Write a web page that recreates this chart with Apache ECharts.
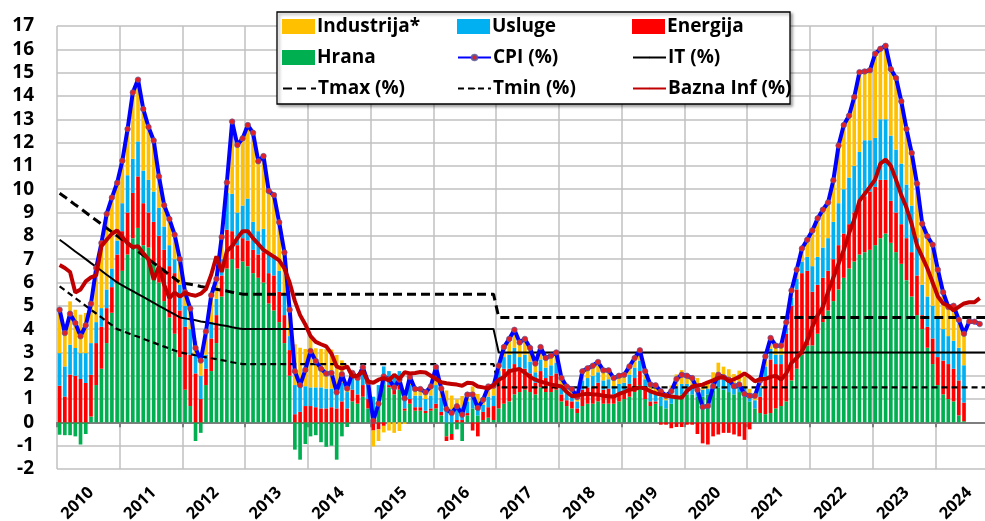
<!DOCTYPE html>
<html><head><meta charset="utf-8">
<script src="https://cdn.jsdelivr.net/npm/echarts@6/dist/echarts.min.js"></script>
<style>html,body{margin:0;padding:0;background:#fff}#c{width:985px;height:521px}</style>
</head><body><div id="c"></div>
<script>
const years = [2010,2011,2012,2013,2014,2015,2016,2017,2018,2019,2020,2021,2022,2023,2024];
const monthCodes = ['01','02','03','04','05','06','07','08','09','10','11','12'];
const yTicks = {min:-2, max:17, step:1};

const cpi = [
 4.83,3.83,4.66,4.26,3.69,4.16,5.09,6.62,7.69,8.94,9.64,10.27,
 11.22,12.58,14.15,14.70,13.44,12.67,12.09,10.55,9.31,8.72,8.05,7.00,
 5.58,4.88,3.19,2.65,3.90,5.45,6.15,7.95,10.29,12.90,11.90,12.18,
 12.75,12.42,11.20,11.42,9.92,9.75,8.58,7.29,4.83,2.19,1.59,2.25,
 3.06,2.63,2.30,2.09,2.12,1.29,2.06,1.45,2.12,1.90,2.36,1.72,
 0.07,0.80,1.97,1.85,1.50,1.83,1.03,1.95,1.43,1.43,1.29,1.54,
 2.37,1.45,0.57,0.40,0.69,0.33,1.19,1.19,0.62,0.97,1.54,1.57,
 2.43,3.23,3.58,3.97,3.43,3.58,3.19,2.52,3.23,2.76,2.86,3.00,
 1.90,1.54,1.43,1.09,2.19,2.32,2.43,2.59,2.23,2.23,1.90,2.00,
 2.04,2.40,2.76,3.09,2.19,1.62,1.59,1.33,1.14,1.33,1.86,2.04,
 2.00,1.90,1.40,0.66,0.70,1.55,2.04,1.94,1.83,1.55,1.62,1.22,
 1.14,1.14,1.80,2.83,3.62,3.29,3.29,4.29,5.66,6.55,7.46,7.83,
 8.23,8.75,9.12,9.43,10.38,11.87,12.75,13.15,13.95,15.02,15.05,15.10,
 15.81,16.02,16.15,15.15,14.77,13.77,12.58,11.55,10.24,8.52,7.98,7.62,
 6.55,5.58,4.95,5.00,4.40,3.80,4.33,4.32,4.22
];
const bazna = [
 6.75,6.62,6.45,5.57,5.70,6.05,6.22,6.30,7.55,7.83,8.09,8.23,
 7.95,7.69,7.52,7.55,7.26,6.98,6.12,6.69,5.90,5.33,5.57,5.40,
 5.55,5.48,5.43,5.52,5.72,6.33,7.12,6.45,7.35,7.55,7.90,8.20,
 8.20,7.90,7.65,7.40,7.25,7.10,6.95,6.60,6.00,5.20,4.60,4.20,
 3.70,3.45,3.35,3.26,2.95,2.40,2.30,2.40,1.97,2.00,2.20,1.75,
 1.70,1.83,1.90,1.80,2.04,1.86,2.15,2.10,2.12,2.16,2.14,2.00,
 1.86,1.72,1.68,1.65,1.62,1.57,1.70,1.68,1.54,1.50,1.45,1.60,
 1.83,1.95,2.19,2.25,2.29,2.12,1.95,1.83,1.75,1.69,1.62,1.58,
 1.54,1.30,1.12,1.15,1.20,1.23,1.20,1.19,1.14,1.12,1.10,1.22,
 1.30,1.40,1.43,1.50,1.45,1.33,1.25,1.19,1.15,1.11,1.08,1.05,
 1.35,1.54,1.58,1.62,1.72,1.80,1.90,1.95,1.76,1.85,1.95,2.10,
 1.95,1.76,1.86,1.86,1.95,2.00,1.83,2.10,2.55,2.76,3.05,3.50,
 4.10,4.60,4.95,5.60,6.20,6.80,7.40,8.10,8.70,9.50,9.80,10.10,
 10.41,11.10,11.27,11.00,10.40,9.75,9.20,8.50,7.60,7.10,6.60,6.00,
 5.40,5.10,5.00,4.80,4.95,5.10,5.15,5.15,5.33
];
const itTarget = [
 7.83,7.67,7.50,7.33,7.17,7.00,6.83,6.67,6.50,6.33,6.17,6.00,
 5.88,5.75,5.63,5.50,5.38,5.25,5.13,5.00,4.88,4.75,4.63,4.50,
 4.46,4.42,4.38,4.33,4.29,4.25,4.21,4.17,4.13,4.08,4.04,4.00,
 4,4,4,4,4,4,4,4,4,4,4,4,
 4,4,4,4,4,4,4,4,4,4,4,4,
 4,4,4,4,4,4,4,4,4,4,4,4,
 4,4,4,4,4,4,4,4,4,4,4,4,
 3,3,3,3,3,3,3,3,3,3,3,3,
 3,3,3,3,3,3,3,3,3,3,3,3,
 3,3,3,3,3,3,3,3,3,3,3,3,
 3,3,3,3,3,3,3,3,3,3,3,3,
 3,3,3,3,3,3,3,3,3,3,3,3,
 3,3,3,3,3,3,3,3,3,3,3,3,
 3,3,3,3,3,3,3,3,3,3,3,3,
 3,3,3,3,3,3,3,3,3,3,3,3
];
const tMax = [
 9.83,9.67,9.50,9.33,9.17,9.00,8.83,8.67,8.50,8.33,8.17,8.00,
 7.83,7.67,7.50,7.33,7.17,7.00,6.83,6.67,6.50,6.33,6.17,6.00,
 5.96,5.92,5.88,5.83,5.79,5.75,5.71,5.67,5.63,5.58,5.54,5.50,
 5.5,5.5,5.5,5.5,5.5,5.5,5.5,5.5,5.5,5.5,5.5,5.5,
 5.5,5.5,5.5,5.5,5.5,5.5,5.5,5.5,5.5,5.5,5.5,5.5,
 5.5,5.5,5.5,5.5,5.5,5.5,5.5,5.5,5.5,5.5,5.5,5.5,
 5.5,5.5,5.5,5.5,5.5,5.5,5.5,5.5,5.5,5.5,5.5,5.5,
 4.5,4.5,4.5,4.5,4.5,4.5,4.5,4.5,4.5,4.5,4.5,4.5,
 4.5,4.5,4.5,4.5,4.5,4.5,4.5,4.5,4.5,4.5,4.5,4.5,
 4.5,4.5,4.5,4.5,4.5,4.5,4.5,4.5,4.5,4.5,4.5,4.5,
 4.5,4.5,4.5,4.5,4.5,4.5,4.5,4.5,4.5,4.5,4.5,4.5,
 4.5,4.5,4.5,4.5,4.5,4.5,4.5,4.5,4.5,4.5,4.5,4.5,
 4.5,4.5,4.5,4.5,4.5,4.5,4.5,4.5,4.5,4.5,4.5,4.5,
 4.5,4.5,4.5,4.5,4.5,4.5,4.5,4.5,4.5,4.5,4.5,4.5,
 4.5,4.5,4.5,4.5,4.5,4.5,4.5,4.5,4.5,4.5,4.5,4.5
];
const tMin = [
 5.83,5.67,5.50,5.33,5.17,5.00,4.83,4.67,4.50,4.33,4.17,4.00,
 3.92,3.83,3.75,3.67,3.58,3.50,3.42,3.33,3.25,3.17,3.08,3.00,
 2.96,2.92,2.88,2.83,2.79,2.75,2.71,2.67,2.63,2.58,2.54,2.50,
 2.5,2.5,2.5,2.5,2.5,2.5,2.5,2.5,2.5,2.5,2.5,2.5,
 2.5,2.5,2.5,2.5,2.5,2.5,2.5,2.5,2.5,2.5,2.5,2.5,
 2.5,2.5,2.5,2.5,2.5,2.5,2.5,2.5,2.5,2.5,2.5,2.5,
 2.5,2.5,2.5,2.5,2.5,2.5,2.5,2.5,2.5,2.5,2.5,2.5,
 1.5,1.5,1.5,1.5,1.5,1.5,1.5,1.5,1.5,1.5,1.5,1.5,
 1.5,1.5,1.5,1.5,1.5,1.5,1.5,1.5,1.5,1.5,1.5,1.5,
 1.5,1.5,1.5,1.5,1.5,1.5,1.5,1.5,1.5,1.5,1.5,1.5,
 1.5,1.5,1.5,1.5,1.5,1.5,1.5,1.5,1.5,1.5,1.5,1.5,
 1.5,1.5,1.5,1.5,1.5,1.5,1.5,1.5,1.5,1.5,1.5,1.5,
 1.5,1.5,1.5,1.5,1.5,1.5,1.5,1.5,1.5,1.5,1.5,1.5,
 1.5,1.5,1.5,1.5,1.5,1.5,1.5,1.5,1.5,1.5,1.5,1.5,
 1.5,1.5,1.5,1.5,1.5,1.5,1.5,1.5,1.5,1.5,1.5,1.5
];
const hrana = [
 -0.53,-0.55,-0.55,-0.60,-0.95,-0.50,0.25,1.60,2.30,3.40,4.70,6.00,
 6.50,7.20,7.90,8.34,7.60,7.50,6.80,6.00,5.20,4.50,3.80,2.80,
 1.40,0.70,-0.80,-0.45,1.60,2.20,3.40,5.40,6.60,7.00,6.60,6.90,
 6.70,6.40,6.20,6.00,5.10,4.80,4.30,3.40,2.00,-1.17,-1.60,-0.93,
 -0.60,-0.55,-0.85,-1.05,-1.00,-1.60,-0.60,-0.20,0.90,0.80,1.10,0.60,
 0.50,0.90,1.60,1.50,1.20,1.40,0.50,0.80,0.50,0.50,0.40,0.50,
 0.60,0.30,-0.60,-0.50,-0.30,-0.80,0.30,0.60,0.30,0.10,0.20,0.10,
 0.60,0.80,0.90,1.20,1.30,1.40,1.30,1.20,1.50,1.30,1.30,1.40,
 0.90,0.70,0.60,0.40,0.70,0.80,0.80,0.90,0.80,0.80,0.80,0.90,
 1.00,1.10,1.30,1.60,1.00,0.70,0.80,0.70,0.60,0.80,1.10,1.20,
 1.20,1.20,1.10,1.10,1.20,1.35,1.50,1.40,1.30,1.20,1.30,1.10,
 0.90,0.60,0.40,0.35,0.40,0.60,0.70,0.90,1.80,2.30,2.90,3.30,
 3.30,3.80,4.30,4.80,5.20,5.70,6.20,6.60,6.90,7.20,7.30,7.40,
 7.60,7.90,8.10,7.70,7.30,6.80,6.10,5.40,4.60,4.00,3.20,2.50,
 1.60,1.20,1.00,0.90,0.30,0.05
];
const energija = [
 1.57,1.11,2.05,2.00,1.86,1.69,1.79,1.80,1.80,1.50,1.10,1.20,
 1.70,1.80,1.94,2.21,1.80,1.50,1.80,2.00,2.20,2.20,2.60,2.00,
 2.70,2.20,2.10,1.00,0.70,1.40,1.20,0.90,1.66,1.20,1.00,1.00,
 1.10,1.00,1.00,1.30,1.30,1.50,1.30,1.20,1.10,0.35,0.45,0.70,
 0.70,0.65,0.60,0.60,0.65,0.60,0.90,0.60,0.50,0.40,0.50,0.40,
 -0.35,-0.30,-0.15,0.10,0.20,0.20,0.10,0.20,0.15,0.15,0.10,0.10,
 0.20,0.15,-0.20,-0.25,0.10,0.10,0.10,-0.35,-0.60,0.35,0.45,0.60,
 1.20,1.50,1.40,1.30,0.90,0.90,0.80,0.50,0.70,0.60,0.70,0.70,
 0.30,0.25,0.30,0.20,0.70,0.70,0.75,0.80,0.60,0.65,0.40,0.35,
 0.35,0.55,0.60,0.60,0.45,0.20,0.10,-0.10,-0.10,-0.25,-0.20,-0.20,
 -0.10,-0.10,-0.50,-0.90,-0.95,-0.60,-0.52,-0.45,-0.45,-0.52,-0.60,-0.75,
 -0.30,0.00,0.70,1.60,2.30,1.90,1.80,2.90,3.20,3.40,3.50,3.20,
 2.30,2.10,1.90,1.70,1.80,1.90,1.90,1.90,2.10,2.20,2.40,2.50,
 2.50,2.50,2.30,1.80,1.70,1.70,1.80,1.90,1.70,0.60,0.90,1.10,
 1.20,1.45,1.50,1.40,1.50,0.80
];
const usluge = [
 1.40,1.29,1.28,1.19,1.11,1.28,1.36,0.90,0.80,0.80,0.80,0.60,
 1.20,1.60,1.46,1.50,1.40,1.40,1.30,1.20,1.00,0.90,0.60,1.10,
 0.90,1.10,0.80,1.00,0.60,0.70,0.70,0.70,1.58,1.60,1.40,1.40,
 1.80,1.20,1.00,1.00,0.90,0.90,0.90,0.90,0.60,1.25,1.10,0.85,
 0.80,0.85,0.90,0.85,0.80,0.90,0.80,0.70,0.60,0.60,0.60,0.60,
 0.60,0.70,0.80,0.60,0.55,0.60,0.50,0.60,0.50,0.50,0.50,0.55,
 0.80,0.60,0.65,0.55,0.50,0.55,0.50,0.55,0.50,0.30,0.45,0.45,
 0.40,0.50,0.60,0.70,0.60,0.60,0.50,0.45,0.50,0.45,0.45,0.45,
 0.35,0.30,0.30,0.30,0.40,0.40,0.45,0.45,0.40,0.40,0.35,0.40,
 0.35,0.40,0.45,0.45,0.40,0.40,0.40,0.40,0.35,0.40,0.45,0.45,
 0.45,0.40,0.40,0.30,0.25,0.35,0.50,0.45,0.45,0.40,0.45,0.40,
 0.35,0.35,0.40,0.45,0.45,0.40,0.40,0.25,0.35,0.45,0.50,0.60,
 1.10,1.20,1.30,1.40,1.60,1.80,1.90,2.00,2.00,2.20,2.40,2.20,
 2.10,2.60,2.60,2.80,2.70,2.60,2.30,2.00,1.60,1.30,1.30,1.40,
 1.70,1.35,1.20,1.20,1.40,1.60
];
const industrija = [
 1.93,1.65,1.86,1.64,1.65,1.72,1.69,2.32,2.79,3.24,3.04,2.47,
 1.82,1.98,2.85,2.65,2.64,2.27,2.19,1.35,0.91,1.12,1.05,1.10,
 0.58,0.88,0.60,0.90,1.00,1.15,0.85,0.95,0.45,3.10,2.90,2.88,
 3.15,3.82,3.00,3.12,2.62,2.55,2.08,1.79,1.13,1.75,1.65,1.60,
 2.16,1.68,1.65,1.69,1.67,1.39,0.96,0.35,0.12,0.10,0.16,0.12,
 -0.68,-0.50,-0.28,-0.35,-0.45,-0.37,-0.07,0.35,0.28,0.28,0.29,0.39,
 0.77,0.40,0.72,0.60,0.39,0.48,0.29,0.39,0.42,0.22,0.44,0.42,
 0.23,0.43,0.68,0.77,0.63,0.68,0.59,0.37,0.53,0.41,0.41,0.45,
 0.35,0.29,0.23,0.19,0.39,0.42,0.43,0.44,0.43,0.38,0.35,0.35,
 0.34,0.35,0.41,0.44,0.34,0.32,0.29,0.33,0.29,0.38,0.51,0.59,
 0.45,0.40,0.40,0.16,0.20,0.45,0.56,0.54,0.53,0.47,0.47,0.47,
 0.19,0.19,0.30,0.43,0.47,0.39,0.39,0.24,0.31,0.40,0.56,0.73,
 1.53,1.65,1.62,1.53,1.78,2.47,2.75,2.65,2.95,3.42,2.95,3.00,
 3.61,3.02,3.15,2.85,3.07,2.67,2.38,2.25,2.34,2.62,2.58,2.62,
 2.05,1.58,1.25,1.50,1.20,1.35
];

const categories = years.flatMap(y => monthCodes.map(m => y + '-' + m));
const FONT = 'Open Sans';
const chart = echarts.init(document.getElementById('c'), null, {renderer:'canvas'});

function lg(name, left, top, extra) {
  return Object.assign({
    data:[name], left:left, top:top, orient:'horizontal', padding:0, itemGap:0,
    itemWidth:33, itemHeight:15, selectedMode:false, z:11,
    textStyle:{fontFamily:FONT, fontWeight:'bold', fontSize:19, color:'#000', padding:[0,0,0,-3]}
  }, extra || {});
}
const rowT = [17, 48, 79];
const colL = [282, 457, 632];

const option = {
  animation:false,
  backgroundColor:'#fff',
  grid:{left:57, right:-13, top:26, bottom:52, containLabel:false, outerBoundsMode:'none'},
  graphic:[{type:'rect', z:10, shape:{x:277, y:12, width:513, height:92},
    style:{fill:'#fff', stroke:'#000', lineWidth:1.3, shadowBlur:3, shadowColor:'rgba(0,0,0,0.35)', shadowOffsetX:2, shadowOffsetY:2}}],
  legend:[
    lg('Industrija*', colL[0], rowT[0], {icon:'rect'}),
    lg('Usluge', colL[1], rowT[0], {icon:'rect'}),
    lg('Energija', colL[2], rowT[0], {icon:'rect'}),
    lg('Hrana', colL[0], rowT[1], {icon:'rect'}),
    lg('CPI (%)', colL[1], rowT[1], {itemHeight:7}),
    lg('IT (%)', colL[2], rowT[1], {itemHeight:2}),
    lg('Tmax (%)', colL[0], rowT[2], {itemHeight:2}),
    lg('Tmin (%)', colL[1], rowT[2], {itemHeight:2}),
    lg('Bazna Inf (%)', colL[2], rowT[2], {itemHeight:2})
  ],
  xAxis:[
    {type:'category', data:categories, position:'bottom', boundaryGap:true,
     axisLine:{onZero:true, lineStyle:{color:'#7f7f7f', width:2}},
     axisTick:{show:true, interval:(i)=> i%12===0, length:5, lineStyle:{color:'#7f7f7f', width:2}},
     axisLabel:{show:false},
     splitLine:{show:true, interval:(i)=> i%12===0, lineStyle:{color:'#c0c0c0', width:1.5}}},
    {type:'category', data:categories, position:'bottom', boundaryGap:true,
     axisLine:{show:false, onZero:false}, axisTick:{show:false}, splitLine:{show:false},
     axisLabel:{interval:(i)=> i%12===6, rotate:45, formatter:(v)=> v.slice(0,4),
       fontFamily:FONT, fontWeight:'bold', fontSize:16.5, color:'#000', margin:21}}
  ],
  yAxis:{type:'value', min:yTicks.min, max:yTicks.max, interval:yTicks.step,
    axisLine:{show:false}, axisTick:{show:false},
    axisLabel:{fontFamily:FONT, fontWeight:'bold', fontSize:19, color:'#000', margin:23},
    splitLine:{lineStyle:{color:'#c0c0c0', width:1.5}}},
  series:[
    {name:'Hrana', type:'bar', stack:'k', data:hrana, barWidth:'70%', itemStyle:{color:'#00B050'}},
    {name:'Energija', type:'bar', stack:'k', data:energija, barWidth:'70%', itemStyle:{color:'#FF0000'}},
    {name:'Usluge', type:'bar', stack:'k', data:usluge, barWidth:'70%', itemStyle:{color:'#00B0F0'}},
    {name:'Industrija*', type:'bar', stack:'k', data:industrija, barWidth:'70%', itemStyle:{color:'#FFC000'}},
    {name:'IT (%)', type:'line', data:itTarget, symbol:'none', z:3, itemStyle:{color:'#000'}, lineStyle:{color:'#000', width:2}},
    {name:'Tmax (%)', type:'line', data:tMax, symbol:'none', z:3, itemStyle:{color:'#000'}, lineStyle:{color:'#000', width:3, type:[9,5]}},
    {name:'Tmin (%)', type:'line', data:tMin, symbol:'none', z:3, itemStyle:{color:'#000'}, lineStyle:{color:'#000', width:2.2, type:[6,4]}},
    {name:'CPI (%)', type:'line', data:cpi, symbol:'circle', symbolSize:5.5, showSymbol:true, showAllSymbol:true, z:5,
     lineStyle:{color:'#0000FF', width:4},
     itemStyle:{color:'#E41E26', borderColor:'rgba(90,90,150,0.85)', borderWidth:0.8}},
    {name:'Bazna Inf (%)', type:'line', data:bazna, symbol:'none', z:6, itemStyle:{color:'#C00000'}, lineStyle:{color:'#C00000', width:4}}
  ]
};
chart.setOption(option);
</script></body></html>
